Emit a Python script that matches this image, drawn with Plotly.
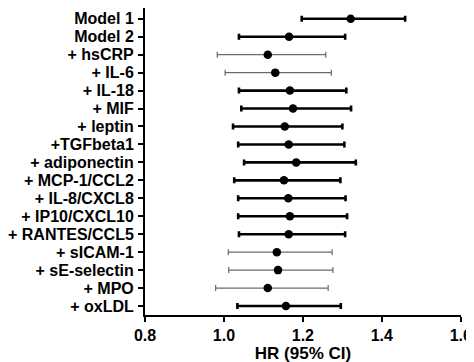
import plotly.graph_objects as go

labels = ["Model 1", "Model 2", "+ hsCRP", "+ IL-6", "+ IL-18", "+ MIF", "+ leptin",
          "+TGFbeta1", "+ adiponectin", "+ MCP-1/CCL2", "+ IL-8/CXCL8", "+ IP10/CXCL10",
          "+ RANTES/CCL5", "+ sICAM-1", "+ sE-selectin", "+ MPO", "+ oxLDL"]
hr = [1.321, 1.165, 1.111, 1.130, 1.167, 1.175, 1.154, 1.164, 1.183, 1.152, 1.163,
      1.167, 1.164, 1.134, 1.137, 1.111, 1.157]
lo = [1.197, 1.038, 0.983, 1.003, 1.038, 1.044, 1.023, 1.036, 1.051, 1.026, 1.036,
      1.036, 1.038, 1.011, 1.012, 0.979, 1.034]
hi = [1.459, 1.307, 1.258, 1.272, 1.310, 1.322, 1.300, 1.305, 1.334, 1.295, 1.308,
      1.312, 1.307, 1.274, 1.276, 1.264, 1.296]
significant = [True, True, False, False, True, True, True, True, True, True, True,
               True, True, False, False, False, True]
x_ticks = [0.8, 1.0, 1.2, 1.4, 1.6]

fig = go.Figure()

def add(group, color, thick, cap):
    idx = [i for i, s in enumerate(significant) if s == group]
    fig.add_trace(go.Scatter(
        x=[hr[i] for i in idx], y=[labels[i] for i in idx], mode="markers",
        marker=dict(color="black", size=8.5),
        error_x=dict(type="data", symmetric=False,
                     array=[hi[i] - hr[i] for i in idx],
                     arrayminus=[hr[i] - lo[i] for i in idx],
                     color=color, thickness=thick, width=cap),
        showlegend=False, cliponaxis=False))

add(False, "#6b6b6b", 1.2, 3)
add(True, "black", 2.6, 3)

font_family = "Liberation Sans, Arial, sans-serif"
fig.update_layout(
    width=474, height=362,
    margin=dict(l=134, r=21, t=0, b=55),
    plot_bgcolor="white", paper_bgcolor="white",
    font=dict(family=font_family, color="black"),
    xaxis=dict(range=[0.8, 1.6005], tickmode="array", tickvals=x_ticks,
               ticktext=[f"{v:.1f}" for v in x_ticks],
               showgrid=False, zeroline=False, showline=True, linecolor="black",
               linewidth=2, ticks="outside", ticklen=5, tickwidth=2, tickcolor="black",
               tickfont=dict(size=16, weight="bold", family=font_family),
               title=dict(text="HR (95% CI)", font=dict(size=17, weight="bold", family=font_family),
                          standoff=3)),
    yaxis=dict(type="category", categoryorder="array", categoryarray=labels,
               tickmode="array", tickvals=labels, ticktext=labels,
               range=[16.5, -0.6], showgrid=False, zeroline=False, showline=True,
               linecolor="black", linewidth=2, ticks="outside", ticklen=5, tickwidth=2,
               tickcolor="black", ticklabelstandoff=1,
               tickfont=dict(size=16, weight="bold", family=font_family)),
)

fig.write_html("out.html")
